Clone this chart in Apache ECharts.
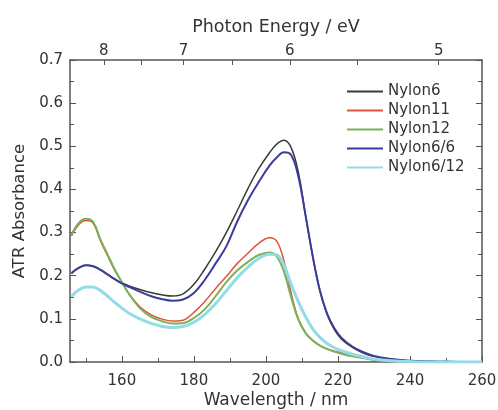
<!DOCTYPE html>
<html>
<head>
<meta charset="utf-8">
<script src="https://cdn.jsdelivr.net/npm/echarts@6/dist/echarts.min.js"></script>
<style>
  html, body { margin: 0; padding: 0; background: #fff; }
  #chart1 { width: 498px; height: 410px; }
</style>
</head>
<body>
<div id="chart1"></div>
<script>
  // wavelength (nm)
  var wl = [146, 148, 150, 152, 154, 156, 158, 160, 162, 165, 168, 171, 174, 177, 180, 183, 186, 189, 192, 195,
    198, 201, 203, 205, 207, 209, 211, 213, 215, 217, 219, 221, 224, 227, 230, 235, 240, 245, 250, 255, 260];

  var nylon6 = [0.205, 0.218, 0.224, 0.222, 0.214, 0.203, 0.192, 0.183, 0.176, 0.168, 0.161, 0.156, 0.153, 0.158, 0.180, 0.215, 0.255, 0.300, 0.350, 0.402,
    0.448, 0.485, 0.505, 0.514, 0.497, 0.440, 0.340, 0.245, 0.165, 0.110, 0.075, 0.053, 0.034, 0.021, 0.013, 0.006, 0.003, 0.001, 0.0005, 0, 0];
  var nylon11 = [0.292, 0.318, 0.328, 0.322, 0.282, 0.247, 0.213, 0.185, 0.158, 0.128, 0.110, 0.100, 0.095, 0.097, 0.115, 0.140, 0.170, 0.198, 0.228, 0.252,
    0.275, 0.288, 0.280, 0.235, 0.160, 0.100, 0.068, 0.050, 0.038, 0.030, 0.025, 0.021, 0.015, 0.010, 0.006, 0.002, 0.001, 0, 0, 0, 0];
  var nylon12 = [0.295, 0.322, 0.332, 0.325, 0.285, 0.250, 0.215, 0.185, 0.157, 0.125, 0.105, 0.095, 0.089, 0.090, 0.102, 0.122, 0.152, 0.185, 0.212, 0.232,
    0.248, 0.254, 0.245, 0.210, 0.150, 0.098, 0.067, 0.050, 0.038, 0.030, 0.024, 0.019, 0.013, 0.009, 0.005, 0.002, 0.001, 0, 0, 0, 0];
  var nylon66 = [0.206, 0.218, 0.224, 0.222, 0.214, 0.203, 0.192, 0.182, 0.174, 0.163, 0.153, 0.146, 0.142, 0.145, 0.160, 0.190, 0.228, 0.268, 0.325, 0.375,
    0.417, 0.455, 0.474, 0.486, 0.480, 0.430, 0.340, 0.245, 0.165, 0.112, 0.078, 0.056, 0.036, 0.023, 0.014, 0.007, 0.003, 0.0015, 0.001, 0, 0];
  var nylon612 = [0.152, 0.167, 0.174, 0.174, 0.166, 0.153, 0.138, 0.125, 0.113, 0.100, 0.090, 0.083, 0.080, 0.082, 0.092, 0.110, 0.135, 0.165, 0.195, 0.220,
    0.240, 0.250, 0.248, 0.225, 0.180, 0.140, 0.105, 0.077, 0.057, 0.043, 0.033, 0.026, 0.018, 0.012, 0.007, 0.003, 0.001, 0, 0, 0, 0];

  var names = ['Nylon6', 'Nylon11', 'Nylon12', 'Nylon6/6', 'Nylon6/12'];
  var colors = ['#3a3a3a', '#e0533a', '#79b25a', '#3c3c9c', '#93dbe6'];
  var widths = [1.5, 1.5, 2, 2, 3];

  var wlTicks = [160, 180, 200, 220, 240, 260];
  var wlMinor = [150, 170, 190, 210, 230, 250];
  var evLabels = [8, 7, 6, 5];
  var evTicks = [8, 7.5, 7, 6.5, 6, 5.5, 5];

  var HC = 1239.84;
  var wlMin = 145.6, wlMax = 260;
  var font = 'DejaVu Sans';
  var txt = '#333';
  var axLine = { onZero: false, lineStyle: { color: '#555', width: 1.5 } };

  const drawChart = chartId => {
    let myChart = echarts.init(document.getElementById(chartId));
    let option;
    let allData = [nylon6, nylon11, nylon12, nylon66, nylon612];

    option = {
      animation: false,
      color: colors,
      textStyle: { fontFamily: font },
      grid: { left: 70, right: 16, top: 60, bottom: 48, outerBoundsMode: 'none' },
      legend: {
        orient: 'vertical',
        left: 342,
        top: 79,
        icon: 'rect',
        itemWidth: 36,
        itemHeight: 2,
        itemGap: 4,
        textStyle: { fontFamily: font, fontSize: 15, color: txt },
        data: names
      },
      xAxis: [
        {
          // bottom: wavelength
          type: 'value', position: 'bottom', min: wlMin, max: wlMax,
          name: 'Wavelength / nm', nameLocation: 'middle', nameGap: 30, nameMoveOverlap: false,
          nameTextStyle: { fontFamily: font, fontSize: 17, color: txt },
          axisLine: axLine,
          axisTick: { inside: true, length: 6, customValues: wlTicks, lineStyle: { color: '#555' } },
          axisLabel: { customValues: wlTicks, fontFamily: font, fontSize: 15, color: txt, margin: 12 },
          splitLine: { show: false }
        },
        {
          // bottom minor ticks
          type: 'value', position: 'bottom', min: wlMin, max: wlMax,
          axisLine: { show: false, onZero: false },
          axisTick: { inside: true, length: 4, customValues: wlMinor, lineStyle: { color: '#555' } },
          axisLabel: { show: false },
          splitLine: { show: false }
        },
        {
          // top: photon energy
          type: 'value', position: 'top', min: wlMin, max: wlMax,
          name: 'Photon Energy / eV', nameLocation: 'middle', nameGap: 24, nameMoveOverlap: false,
          nameTextStyle: { fontFamily: font, fontSize: 17.5, color: txt },
          axisLine: axLine,
          axisTick: { inside: true, length: 5, customValues: evTicks.map(e => HC / e), lineStyle: { color: '#555' } },
          axisLabel: {
            customValues: evLabels.map(e => HC / e), fontFamily: font, fontSize: 15, color: txt, margin: 1,
            formatter: v => Math.round(HC / v)
          },
          splitLine: { show: false }
        }
      ],
      yAxis: [
        {
          type: 'value', position: 'left', min: 0, max: 0.7, interval: 0.1,
          name: 'ATR Absorbance', nameLocation: 'middle', nameGap: 42, nameMoveOverlap: false,
          nameTextStyle: { fontFamily: font, fontSize: 16.5, color: txt },
          axisLine: { show: true, onZero: false, lineStyle: { color: '#555', width: 1.5 } },
          axisTick: { inside: true, length: 6, lineStyle: { color: '#555' } },
          minorTick: { show: true, splitNumber: 2, length: 4, lineStyle: { color: '#555' } },
          axisLabel: { fontFamily: font, fontSize: 15, color: txt, margin: 7, formatter: v => v.toFixed(1) },
          splitLine: { show: false }
        },
        {
          type: 'value', position: 'right', min: 0, max: 0.7, interval: 0.1,
          axisLine: { show: true, onZero: false, lineStyle: { color: '#555', width: 1.5 } },
          axisTick: { inside: true, length: 6, lineStyle: { color: '#555' } },
          minorTick: { show: true, splitNumber: 2, length: 4, lineStyle: { color: '#555' } },
          axisLabel: { show: false },
          splitLine: { show: false }
        }
      ],
      series: names.map((n, k) => ({
        name: n,
        type: 'line',
        xAxisIndex: 0,
        yAxisIndex: 0,
        smooth: 0.4,
        showSymbol: false,
        symbol: 'none',
        lineStyle: { width: widths[k], color: colors[k] },
        data: wl.map((x, i) => [x, allData[k][i]])
      }))
    };

    option && myChart.setOption(option);
  }

  drawChart('chart1');
</script>
</body>
</html>
